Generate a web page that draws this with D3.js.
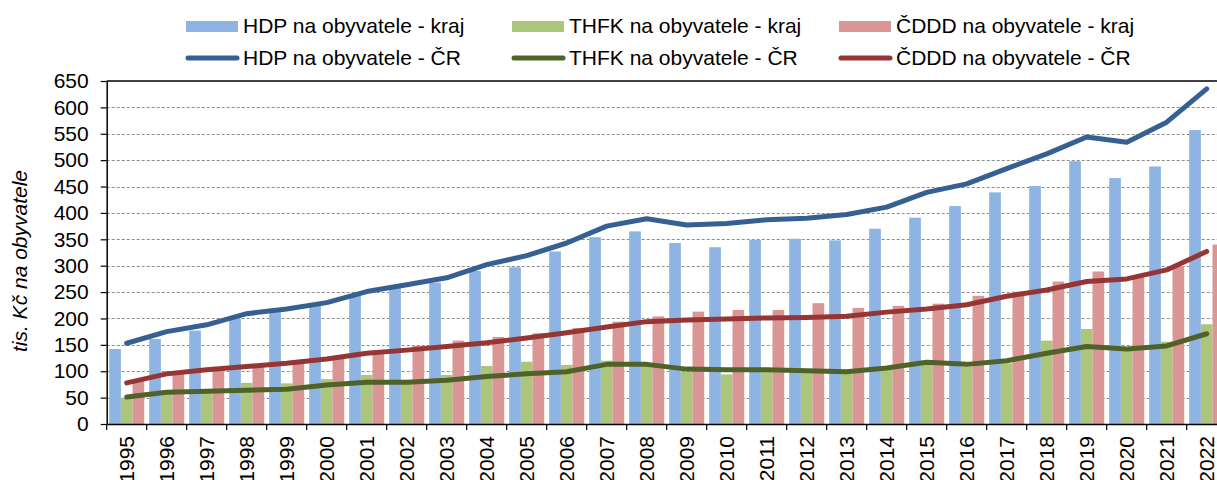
<!DOCTYPE html>
<html>
<head>
<meta charset="utf-8">
<script src="https://cdn.jsdelivr.net/npm/d3@7"></script>
<style>
	body { margin: 0; background: #fff; }
	svg { display: block; font-family: "Liberation Sans", Arial, sans-serif; }
	.grid line { stroke: #8c8c8c; stroke-dasharray: 3,2; stroke-width: 1; }
</style>
</head>
<body>
<div id="chart"></div>
<script>
var years = ['1995','1996','1997','1998','1999','2000','2001','2002','2003','2004','2005','2006','2007','2008',
	'2009','2010','2011','2012','2013','2014','2015','2016','2017','2018','2019','2020','2021','2022'];

// kraj (bars)
var hdpKraj = [142,161,177,200,212,226,244,258,268,290,297,327,354,365,343,335,349,351,348,370,391,413,439,451,498,466,488,557];
var thfkKraj = [50,62,63,78,77,85,93,80,93,110,118,112,120,112,99,94,103,99,95,103,115,109,115,158,180,145,156,189];
var cdddKraj = [82,98,105,112,118,124,137,148,158,165,172,182,194,204,213,216,216,229,220,224,228,243,251,270,289,278,299,340];

// CR (lines)
var hdpCR = [153,175,188,209,218,230,251,264,277,302,319,343,375,389,377,380,387,390,397,411,439,455,484,512,544,534,572,635];
var thfkCR = [51,60,62,64,66,74,79,79,83,90,95,99,113,113,104,103,103,101,99,106,117,113,120,134,147,142,148,171];
var cdddCR = [78,95,103,109,115,123,134,140,147,154,163,173,184,194,197,199,201,202,204,212,218,226,242,254,270,275,292,327];

var yTicks = [0,50,100,150,200,250,300,350,400,450,500,550,600,650];

var barSeries = [
	{ label: 'HDP na obyvatele - kraj', values: hdpKraj, color: '#8db4e2' },
	{ label: 'THFK na obyvatele - kraj', values: thfkKraj, color: '#abc67b' },
	{ label: 'ČDDD na obyvatele - kraj', values: cdddKraj, color: '#da9694' }
];
var lineSeries = [
	{ label: 'HDP na obyvatele - ČR', values: hdpCR, color: '#376092' },
	{ label: 'THFK na obyvatele - ČR', values: thfkCR, color: '#4f6228' },
	{ label: 'ČDDD na obyvatele - ČR', values: cdddCR, color: '#963634' }
];

(function () {
	var width = 1217, height = 480;
	var plotLeft = 106.7, plotBottom = 424, plotTop = 81;

	var svg = d3.select('#chart').append('svg')
		.attr('width', width)
		.attr('height', height);

	var x = d3.scaleBand().domain(years).range([plotLeft, plotLeft + years.length * 40]);
	var xSub = d3.scaleBand().domain([0, 1, 2]).range([2.5, x.bandwidth() - 2.5]);
	var y = d3.scaleLinear().domain([0, 650]).range([plotBottom, plotTop]);

	// gridlines
	svg.append('g')
		.attr('class', 'grid')
		.selectAll('line')
		.data(yTicks.filter(function (t) { return t > 0 && t < 650; }))
		.enter().append('line')
		.attr('x1', plotLeft).attr('x2', width)
		.attr('y1', function (d) { return Math.round(y(d)) + 0.5; })
		.attr('y2', function (d) { return Math.round(y(d)) + 0.5; });

	// top border
	svg.append('line')
		.attr('x1', plotLeft).attr('x2', width)
		.attr('y1', y(650)).attr('y2', y(650))
		.attr('stroke', '#000').attr('stroke-width', 1.5);

	// bars
	var group = svg.selectAll('g.year')
		.data(years)
		.enter().append('g')
		.classed('year', true)
		.attr('transform', function (d) { return 'translate(' + x(d) + ',0)'; });

	group.selectAll('rect')
		.data(function (d, i) {
			return barSeries.map(function (s, k) { return { k: k, v: s.values[i], color: s.color }; });
		})
		.enter().append('rect')
		.attr('x', function (d) { return xSub(d.k); })
		.attr('width', xSub.bandwidth())
		.attr('y', function (d) { return y(d.v); })
		.attr('height', function (d) { return plotBottom - y(d.v); })
		.attr('fill', function (d) { return d.color; });

	// lines
	var line = d3.line()
		.x(function (d, i) { return x(years[i]) + x.bandwidth() / 2; })
		.y(function (d) { return y(d); })
		.curve(d3.curveLinear);

	svg.selectAll('path.series')
		.data(lineSeries)
		.enter().append('path')
		.classed('series', true)
		.attr('d', function (d) { return line(d.values); })
		.attr('fill', 'none')
		.attr('stroke', function (d) { return d.color; })
		.attr('stroke-width', 5)
		.attr('stroke-linecap', 'round')
		.attr('stroke-linejoin', 'round');

	// y axis
	var yAxis = svg.append('g')
		.attr('transform', 'translate(' + plotLeft + ',0)')
		.call(d3.axisLeft(y).tickValues(yTicks).tickSize(6).tickPadding(12).tickSizeOuter(0));
	yAxis.select('.domain').attr('stroke', '#000').attr('stroke-width', 1.5);
	yAxis.selectAll('.tick line').attr('stroke', '#000').attr('stroke-width', 1.2);
	yAxis.selectAll('text').attr('font-size', 21).attr('fill', '#000').attr('font-family', '"Liberation Sans", Arial, sans-serif');

	// x axis
	var xAxis = svg.append('g')
		.attr('transform', 'translate(0,' + plotBottom + ')')
		.call(d3.axisBottom(x).tickSize(0).tickSizeOuter(0));
	xAxis.select('.domain').attr('stroke', '#000').attr('stroke-width', 1.5);
	xAxis.selectAll('text')
		.attr('font-size', 21).attr('fill', '#000')
		.attr('font-family', '"Liberation Sans", Arial, sans-serif')
		.attr('transform', 'rotate(-90)')
		.attr('text-anchor', 'end')
		.attr('x', -12).attr('y', 0).attr('dy', '0.35em');

	// tick marks at band boundaries
	svg.append('g')
		.selectAll('line')
		.data(years)
		.enter().append('line')
		.attr('x1', function (d) { return x(d); })
		.attr('x2', function (d) { return x(d); })
		.attr('y1', plotBottom).attr('y2', plotBottom + 6)
		.attr('stroke', '#000').attr('stroke-width', 1.2);

	// y title
	svg.append('text')
		.attr('transform', 'translate(27,261) rotate(-90)')
		.attr('text-anchor', 'middle')
		.attr('font-size', 21)
		.attr('font-style', 'italic')
		.text('tis. Kč na obyvatele');

	// legend
	var legendX = [186, 512, 839];
	var legend = svg.append('g');
	barSeries.forEach(function (s, i) {
		legend.append('rect')
			.attr('x', legendX[i]).attr('y', 21)
			.attr('width', 52).attr('height', 11)
			.attr('fill', s.color);
		legend.append('text')
			.attr('x', legendX[i] + 57).attr('y', 26)
			.attr('dy', '0.35em')
			.attr('font-size', 21)
			.text(s.label);
	});
	lineSeries.forEach(function (s, i) {
		legend.append('line')
			.attr('x1', legendX[i] + 2).attr('x2', legendX[i] + 51)
			.attr('y1', 58).attr('y2', 58)
			.attr('stroke', s.color).attr('stroke-width', 5)
			.attr('stroke-linecap', 'round');
		legend.append('text')
			.attr('x', legendX[i] + 57).attr('y', 58)
			.attr('dy', '0.35em')
			.attr('font-size', 21)
			.text(s.label);
	});
})();
</script>
</body>
</html>
